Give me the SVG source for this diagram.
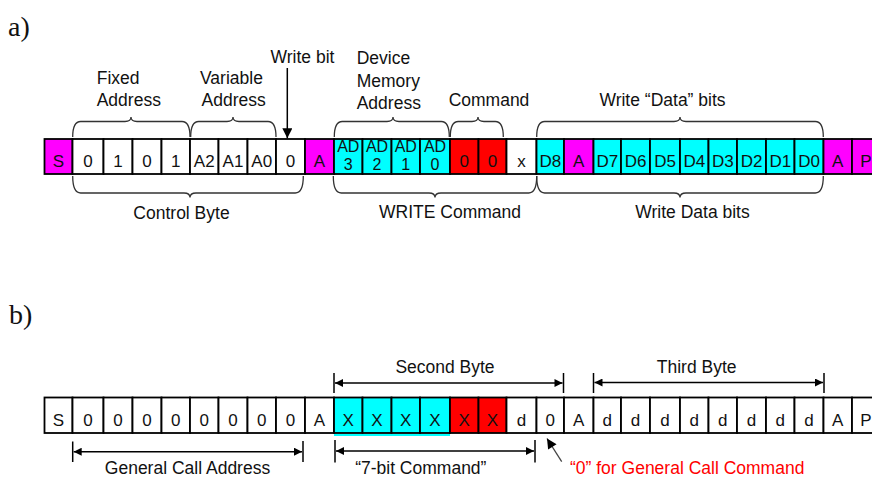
<svg xmlns="http://www.w3.org/2000/svg" width="872" height="480" viewBox="0 0 872 480">
<defs>
<style>
.c{stroke:#000;stroke-width:1.8}
.w{fill:#fff}.m{fill:#f0f}.y{fill:#0ff}.r{fill:#f00}
.t{font-family:"Liberation Sans",Arial,sans-serif;font-size:17px;fill:#111;text-anchor:middle}
.s{font-size:16px}
.l{font-family:"Liberation Sans",Arial,sans-serif;font-size:17.5px;fill:#111}
.mid{text-anchor:middle}
.br{fill:none;stroke:#333;stroke-width:1.3}
.ln{fill:none;stroke:#000;stroke-width:1.5}
.hd{font-family:"Liberation Serif","Times New Roman",serif;font-size:28px;fill:#111}
</style>
<marker id="ah" viewBox="0 0 10 10" refX="10" refY="5" markerWidth="9" markerHeight="8" markerUnits="userSpaceOnUse" orient="auto-start-reverse"><path d="M0,0 L10,5 L0,10 Z" fill="#000"/></marker>
<marker id="ah2" viewBox="0 0 10 10" refX="10" refY="5" markerWidth="11" markerHeight="10" markerUnits="userSpaceOnUse" orient="auto"><path d="M0,0 L10,5 L0,10 Z" fill="#000"/></marker>
</defs>
<rect width="872" height="480" fill="#fff"/>
<text class="hd" x="8" y="36">a)</text>
<text class="hd" x="9" y="324">b)</text>

<g id="rowA">
<g id="a0"><rect class="c m" x="44.5" y="139" width="28" height="35"/><text class="t" x="58.5" y="167">S</text></g>
<g id="a1"><rect class="c w" x="72.5" y="139" width="31" height="35"/><text class="t" x="88" y="167">0</text></g>
<g id="a2"><rect class="c w" x="103.5" y="139" width="29" height="35"/><text class="t" x="118" y="167">1</text></g>
<g id="a3"><rect class="c w" x="132.5" y="139" width="29" height="35"/><text class="t" x="147" y="167">0</text></g>
<g id="a4"><rect class="c w" x="161.5" y="139" width="28.5" height="35"/><text class="t" x="175.75" y="167">1</text></g>
<g id="a5"><rect class="c w" x="190" y="139" width="28.5" height="35"/><text class="t" x="204.25" y="167">A2</text></g>
<g id="a6"><rect class="c w" x="218.5" y="139" width="29" height="35"/><text class="t" x="233" y="167">A1</text></g>
<g id="a7"><rect class="c w" x="247.5" y="139" width="28.5" height="35"/><text class="t" x="261.75" y="167">A0</text></g>
<g id="a8"><rect class="c w" x="276" y="139" width="29" height="35"/><text class="t" x="290.5" y="167">0</text></g>
<g id="a9"><rect class="c m" x="305" y="139" width="29" height="35"/><text class="t" x="319.5" y="167">A</text></g>
<g id="a10"><rect class="c y" x="334" y="139" width="28.5" height="35"/><text class="t s" x="348.25" y="152">AD</text><text class="t s" x="348.25" y="169.5">3</text></g>
<g id="a11"><rect class="c y" x="362.5" y="139" width="29" height="35"/><text class="t s" x="377" y="152">AD</text><text class="t s" x="377" y="169.5">2</text></g>
<g id="a12"><rect class="c y" x="391.5" y="139" width="28.5" height="35"/><text class="t s" x="405.75" y="152">AD</text><text class="t s" x="405.75" y="169.5">1</text></g>
<g id="a13"><rect class="c y" x="420" y="139" width="30" height="35"/><text class="t s" x="435" y="152">AD</text><text class="t s" x="435" y="169.5">0</text></g>
<g id="a14"><rect class="c r" x="450" y="139" width="28.5" height="35"/><text class="t" x="464.25" y="167">0</text></g>
<g id="a15"><rect class="c r" x="478.5" y="139" width="28" height="35"/><text class="t" x="492.5" y="167">0</text></g>
<g id="a16"><rect class="c w" x="506.5" y="139" width="30" height="35"/><text class="t" x="521.5" y="167">x</text></g>
<g id="a17"><rect class="c y" x="536.5" y="139" width="27.5" height="35"/><text class="t" x="550.25" y="167">D8</text></g>
<g id="a18"><rect class="c m" x="564" y="139" width="29.5" height="35"/><text class="t" x="578.75" y="167">A</text></g>
<g id="a19"><rect class="c y" x="593.5" y="139" width="27.5" height="35"/><text class="t" x="607.25" y="167">D7</text></g>
<g id="a20"><rect class="c y" x="621" y="139" width="29" height="35"/><text class="t" x="635.5" y="167">D6</text></g>
<g id="a21"><rect class="c y" x="650" y="139" width="30" height="35"/><text class="t" x="665" y="167">D5</text></g>
<g id="a22"><rect class="c y" x="680" y="139" width="28.5" height="35"/><text class="t" x="694.25" y="167">D4</text></g>
<g id="a23"><rect class="c y" x="708.5" y="139" width="28.5" height="35"/><text class="t" x="722.75" y="167">D3</text></g>
<g id="a24"><rect class="c y" x="737" y="139" width="29" height="35"/><text class="t" x="751.5" y="167">D2</text></g>
<g id="a25"><rect class="c y" x="766" y="139" width="28.5" height="35"/><text class="t" x="780.25" y="167">D1</text></g>
<g id="a26"><rect class="c y" x="794.5" y="139" width="29" height="35"/><text class="t" x="809" y="167">D0</text></g>
<g id="a27"><rect class="c m" x="823.5" y="139" width="28.5" height="35"/><text class="t" x="837.75" y="167">A</text></g>
<g id="a28"><rect class="c m" x="852" y="139" width="48" height="35"/><text class="t" x="866" y="167">P</text></g>
</g>

<g id="rowB">
<g id="b0"><rect class="c w" x="44.5" y="397.5" width="28" height="35.5"/><text class="t" x="58.5" y="426">S</text></g>
<g id="b1"><rect class="c w" x="72.5" y="397.5" width="31" height="35.5"/><text class="t" x="88" y="426">0</text></g>
<g id="b2"><rect class="c w" x="103.5" y="397.5" width="29" height="35.5"/><text class="t" x="118" y="426">0</text></g>
<g id="b3"><rect class="c w" x="132.5" y="397.5" width="29" height="35.5"/><text class="t" x="147" y="426">0</text></g>
<g id="b4"><rect class="c w" x="161.5" y="397.5" width="28.5" height="35.5"/><text class="t" x="175.75" y="426">0</text></g>
<g id="b5"><rect class="c w" x="190" y="397.5" width="28.5" height="35.5"/><text class="t" x="204.25" y="426">0</text></g>
<g id="b6"><rect class="c w" x="218.5" y="397.5" width="29" height="35.5"/><text class="t" x="233" y="426">0</text></g>
<g id="b7"><rect class="c w" x="247.5" y="397.5" width="28.5" height="35.5"/><text class="t" x="261.75" y="426">0</text></g>
<g id="b8"><rect class="c w" x="276" y="397.5" width="29" height="35.5"/><text class="t" x="290.5" y="426">0</text></g>
<g id="b9"><rect class="c w" x="305" y="397.5" width="29" height="35.5"/><text class="t" x="319.5" y="426">A</text></g>
<g id="b10"><rect class="c y" x="334" y="397.5" width="28.5" height="35.5"/><text class="t" x="348.25" y="426">X</text></g>
<g id="b11"><rect class="c y" x="362.5" y="397.5" width="29" height="35.5"/><text class="t" x="377" y="426">X</text></g>
<g id="b12"><rect class="c y" x="391.5" y="397.5" width="28.5" height="35.5"/><text class="t" x="405.75" y="426">X</text></g>
<g id="b13"><rect class="c y" x="420" y="397.5" width="30" height="35.5"/><text class="t" x="435" y="426">X</text></g>
<g id="b14"><rect class="c r" x="450" y="397.5" width="28.5" height="35.5"/><text class="t" x="464.25" y="426">X</text></g>
<g id="b15"><rect class="c r" x="478.5" y="397.5" width="28" height="35.5"/><text class="t" x="492.5" y="426">X</text></g>
<g id="b16"><rect class="c w" x="506.5" y="397.5" width="30" height="35.5"/><text class="t" x="521.5" y="426">d</text></g>
<g id="b17"><rect class="c w" x="536.5" y="397.5" width="27.5" height="35.5"/><text class="t" x="550.25" y="426">0</text></g>
<g id="b18"><rect class="c w" x="564" y="397.5" width="29.5" height="35.5"/><text class="t" x="578.75" y="426">A</text></g>
<g id="b19"><rect class="c w" x="593.5" y="397.5" width="27.5" height="35.5"/><text class="t" x="607.25" y="426">d</text></g>
<g id="b20"><rect class="c w" x="621" y="397.5" width="29" height="35.5"/><text class="t" x="635.5" y="426">d</text></g>
<g id="b21"><rect class="c w" x="650" y="397.5" width="30" height="35.5"/><text class="t" x="665" y="426">d</text></g>
<g id="b22"><rect class="c w" x="680" y="397.5" width="28.5" height="35.5"/><text class="t" x="694.25" y="426">d</text></g>
<g id="b23"><rect class="c w" x="708.5" y="397.5" width="28.5" height="35.5"/><text class="t" x="722.75" y="426">d</text></g>
<g id="b24"><rect class="c w" x="737" y="397.5" width="29" height="35.5"/><text class="t" x="751.5" y="426">d</text></g>
<g id="b25"><rect class="c w" x="766" y="397.5" width="28.5" height="35.5"/><text class="t" x="780.25" y="426">d</text></g>
<g id="b26"><rect class="c w" x="794.5" y="397.5" width="29" height="35.5"/><text class="t" x="809" y="426">d</text></g>
<g id="b27"><rect class="c w" x="823.5" y="397.5" width="28.5" height="35.5"/><text class="t" x="837.75" y="426">A</text></g>
<g id="b28"><rect class="c w" x="852" y="397.5" width="48" height="35.5"/><text class="t" x="866" y="426">P</text></g>
<line x1="334" y1="435" x2="450" y2="435" stroke="#0ff" stroke-width="1.8"/>
</g>

<g id="labels">
<text class="l" x="96.7" y="84">Fixed</text>
<text class="l" x="96.7" y="106">Address</text>
<text class="l" x="200" y="84">Variable</text>
<text class="l" x="201.5" y="106">Address</text>
<text class="l mid" x="302.5" y="63">Write bit</text>
<text class="l" x="356.7" y="64">Device</text>
<text class="l" x="356.7" y="86.5">Memory</text>
<text class="l" x="356.7" y="109">Address</text>
<text class="l mid" x="489" y="105.5">Command</text>
<text class="l mid" x="662.5" y="105.5">Write “Data” bits</text>
<text class="l mid" x="181.5" y="219">Control Byte</text>
<text class="l mid" x="450" y="218">WRITE Command</text>
<text class="l mid" x="692.5" y="218">Write Data bits</text>
<text class="l mid" x="445" y="373">Second Byte</text>
<text class="l mid" x="696.7" y="373">Third Byte</text>
<text class="l mid" x="187.5" y="474">General Call Address</text>
<text class="l mid" x="420.8" y="474">“7-bit Command”</text>
<text class="l" x="570" y="474" style="fill:#f00">“0” for General Call Command</text>
</g>

<g id="connectors">
<path class="br" d="M72.7,137 Q72.7,121.5 80.7,121.5 L125,121.5 Q131,121.5 131,117 Q131,121.5 137,121.5 L182,121.5 Q190,121.5 190,137"/>
<path class="br" d="M190.7,137 Q190.7,121.5 198.7,121.5 L227,121.5 Q233,121.5 233,117 Q233,121.5 239,121.5 L268,121.5 Q276,121.5 276,137"/>
<path class="br" d="M334.3,137 Q334.3,121.5 342.3,121.5 L387,121.5 Q393,121.5 393,117 Q393,121.5 399,121.5 L441.3,121.5 Q449.3,121.5 449.3,137"/>
<path class="br" d="M450.3,137 Q450.3,121.5 458.3,121.5 L472,121.5 Q478,121.5 478,117 Q478,121.5 484,121.5 L495.3,121.5 Q503.3,121.5 503.3,137"/>
<path class="br" d="M536.7,137 Q536.7,121.5 544.7,121.5 L674,121.5 Q680,121.5 680,117 Q680,121.5 686,121.5 L815.3,121.5 Q823.3,121.5 823.3,137"/>
<path class="br" d="M72.7,176 Q72.7,193 80.7,193 L184,193 Q190,193 190,197.5 Q190,193 196,193 L295.3,193 Q303.3,193 303.3,176"/>
<path class="br" d="M333.3,176 Q333.3,193 341.3,193 L429,193 Q435,193 435,197.5 Q435,193 441,193 L528.7,193 Q536.7,193 536.7,176"/>
<path class="br" d="M536.7,176 Q536.7,193 544.7,193 L674,193 Q680,193 680,197.5 Q680,193 686,193 L815.3,193 Q823.3,193 823.3,176"/>
<line class="ln" x1="287.3" y1="68" x2="287.3" y2="138.3" marker-end="url(#ah2)"/>
<line class="ln" x1="334" y1="373" x2="334" y2="393"/>
<line class="ln" x1="563.5" y1="373" x2="563.5" y2="393"/>
<line class="ln" x1="335" y1="383" x2="562.5" y2="383" marker-start="url(#ah)" marker-end="url(#ah)"/>
<line class="ln" x1="593.5" y1="373" x2="593.5" y2="393"/>
<line class="ln" x1="824" y1="373" x2="824" y2="393"/>
<line class="ln" x1="594.5" y1="382.5" x2="823" y2="382.5" marker-start="url(#ah)" marker-end="url(#ah)"/>
<line class="ln" x1="72.7" y1="441.5" x2="72.7" y2="462"/>
<line class="ln" x1="303" y1="441" x2="303" y2="462"/>
<line class="ln" x1="73.7" y1="451.7" x2="302" y2="451.7" marker-start="url(#ah)" marker-end="url(#ah)"/>
<line class="ln" x1="335" y1="440" x2="335" y2="462.5"/>
<line class="ln" x1="535" y1="440" x2="535" y2="462.5"/>
<line class="ln" x1="336" y1="451" x2="534" y2="451" marker-start="url(#ah)" marker-end="url(#ah)"/>
<line x1="561.7" y1="461.7" x2="547" y2="438.5" stroke="#444" stroke-width="1.3" marker-end="url(#ah2)"/>
</g>
</svg>
